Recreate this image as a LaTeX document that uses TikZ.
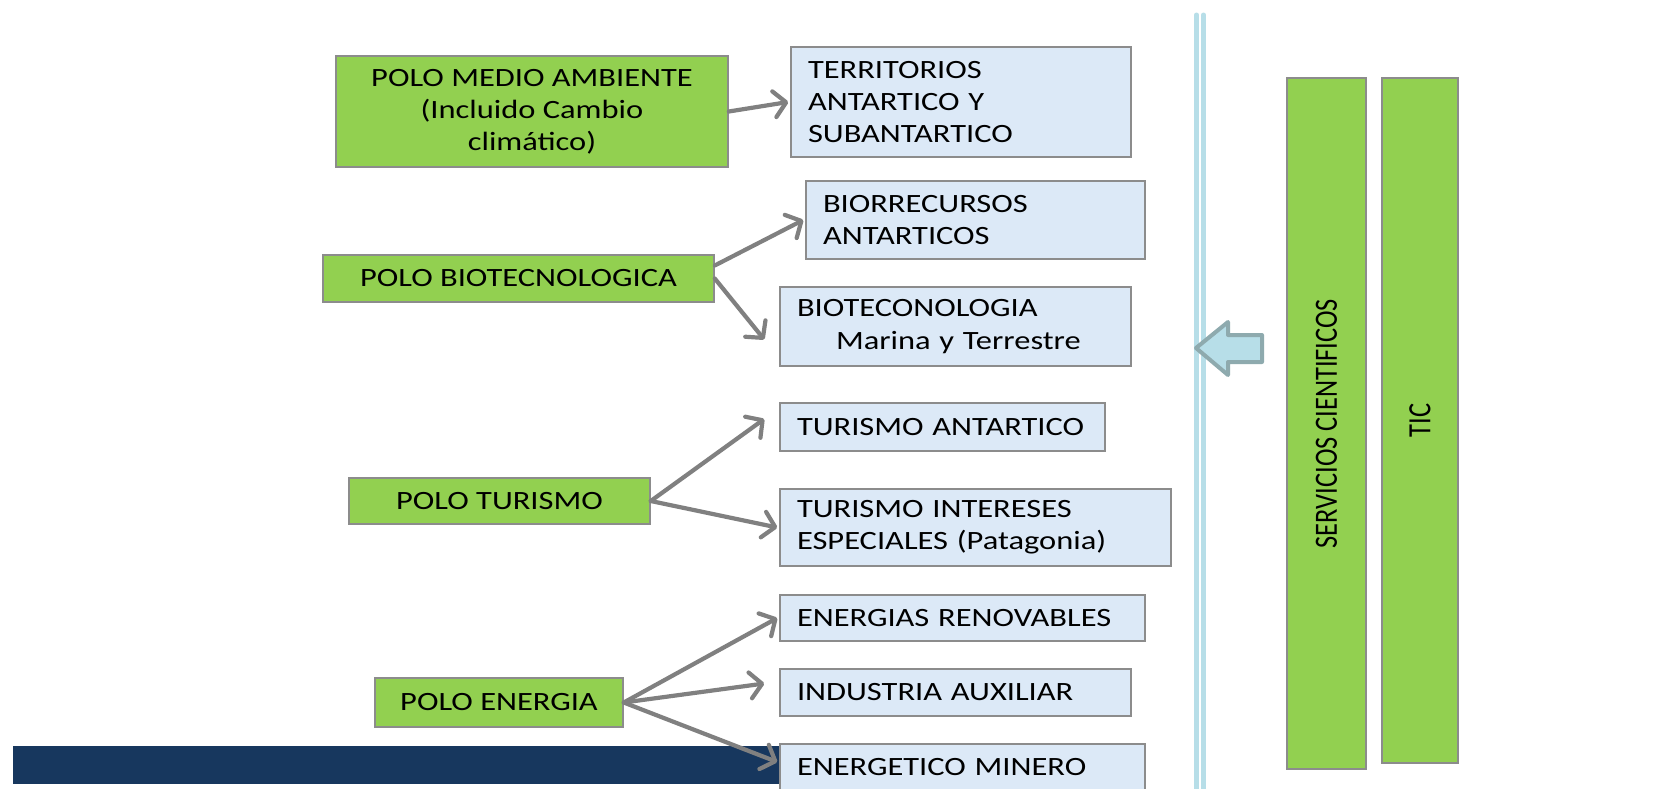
\documentclass[tikz,border=0pt]{standalone}
\usepackage{fontspec}
\setmainfont{Carlito}[FakeStretch=1.23]
\newfontfamily\rotfont{Carlito}
\usepackage{xcolor}
\usepackage{tikz}
\usetikzlibrary{arrows.meta}
\definecolor{verdepolo}{HTML}{92D050}
\definecolor{celeste}{HTML}{DCE9F7}
\definecolor{gris}{HTML}{8C8C8C}
\definecolor{grisflecha}{HTML}{808080}
\definecolor{azulosc}{HTML}{17375E}
\definecolor{celestelinea}{HTML}{B7DEE8}
\definecolor{bordeflecha}{HTML}{8EAAAE}

\begin{document}
\begin{tikzpicture}[x=1pt, y=-1pt,
    every node/.style={font=\fontsize{26.4}{32.2}\selectfont},
    polobox/.style={draw=gris, line width=1.5pt, fill=verdepolo, align=center, inner sep=0pt},
    areabox/.style={draw=gris, line width=1.5pt, fill=celeste, align=left, inner xsep=17pt, inner ysep=0pt},
    flecha/.style={draw=grisflecha, line width=4.2pt, line cap=round, -{Straight Barb[round, length=12pt, width=26pt]}}]
            \fill[white] (0, 0) rectangle (1659, 788);
            \useasboundingbox (0, 0) rectangle (1659, 788);

            % barra inferior
            \fill[azulosc] (13, 746) rectangle (780, 784);

            % polos
            \node[polobox, minimum width=392, minimum height=111] (medio) at (532, 111.5)
                {POLO MEDIO AMBIENTE\\(Incluido Cambio\\climático)};
            \node[polobox, minimum width=391, minimum height=47] (biotec) at (518.5, 278.5)
                {POLO BIOTECNOLOGICA};
            \node[polobox, minimum width=301, minimum height=46] (turismo) at (499.5, 501)
                {POLO TURISMO};
            \node[polobox, minimum width=248, minimum height=49] (energia) at (499, 702.5)
                {POLO ENERGIA};

            % areas
            \node[areabox, text width=306, minimum height=110] (territorios) at (961, 102)
                {TERRITORIOS\\ANTARTICO Y\\SUBANTARTICO};
            \node[areabox, text width=305, minimum height=78] (biorrecursos) at (975.5, 220)
                {BIORRECURSOS\\ANTARTICOS};
            \node[areabox, text width=317, minimum height=79] (biotecnologia) at (955.5, 326.5)
                {BIOTECONOLOGIA\\\hspace*{39pt}Marina y Terrestre};
            \node[areabox, text width=291, minimum height=48] (turantartico) at (942.5, 427)
                {TURISMO ANTARTICO};
            \node[areabox, text width=357, minimum height=77] (turintereses) at (975.5, 527.5)
                {TURISMO INTERESES\\ESPECIALES (Patagonia)};
            \node[areabox, text width=331, minimum height=46] (renovables) at (962.5, 618)
                {ENERGIAS RENOVABLES};
            \node[areabox, text width=317, minimum height=47] (industria) at (955.5, 692.5)
                {INDUSTRIA AUXILIAR};
            \node[areabox, text width=331, minimum height=46] (minero) at (962.5, 767)
                {ENERGETICO MINERO};

            % flechas
            \draw[flecha] (medio.east) -- ([xshift=-2pt]territorios.west);
            \draw[flecha] ([yshift=13pt]biotec.east) -- ([xshift=-2pt]biorrecursos.west);
            \draw[flecha] (biotec.east) -- ([xshift=-15pt, yshift=-13pt]biotecnologia.west);
            \draw[flecha] (turismo.east) -- ([xshift=-15pt, yshift=8pt]turantartico.west);
            \draw[flecha] (turismo.east) -- ([xshift=-2pt]turintereses.west);
            \draw[flecha] (energia.east) -- ([xshift=-2pt]renovables.west);
            \draw[flecha] (energia.east) -- ([xshift=-15pt, yshift=9pt]industria.west);
            \draw[flecha] (energia.east) -- ([xshift=-2pt, yshift=5pt]minero.west);

            % doble linea
            \draw[celestelinea, line width=5pt, line cap=round] (1196.5, 15) -- (1196.5, 800);
            \draw[celestelinea, line width=5pt, line cap=round] (1203.5, 15) -- (1203.5, 800);

            % flecha de bloque
            \filldraw[fill=celestelinea, draw=bordeflecha, line width=4pt, line join=round]
                (1196, 348) -- (1228, 322) -- (1228, 335) -- (1262, 335) -- (1262, 362)
                -- (1228, 362) -- (1228, 375) -- cycle;

            % servicios transversales
            \node[polobox, minimum width=691, minimum height=79, rotate=90] (servicios) at (1326.5, 423.5)
                {\rotfont\scalebox{1}[1.23]{SERVICIOS CIENTIFICOS}};
            \node[polobox, minimum width=685, minimum height=76, rotate=90] (tic) at (1420, 420.5)
                {\rotfont\scalebox{1}[1.23]{TIC}};
        \end{tikzpicture}
\end{document}
